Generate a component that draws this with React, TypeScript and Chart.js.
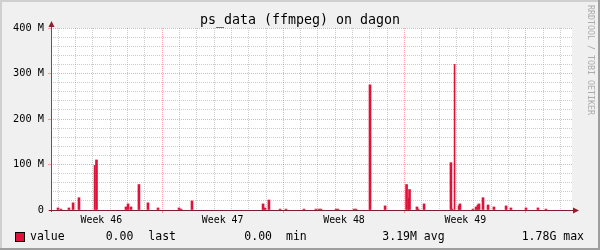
import React, { useEffect, useRef } from "react";
import { Chart, registerables } from "chart.js";

Chart.register(...registerables);

const TITLE = "ps_data (ffmpeg) on dagon";
const WATERMARK = "RRDTOOL / TOBI OETIKER";
const SERIES_NAME = "value";
const LEGEND_STATS = ["0.00", "last", "0.00", "min", "3.19M avg", "1.78G max"];
const WEEK_LABELS = ["Week 46", "Week 47", "Week 48", "Week 49"];
const Y_MAX = 400; // M
const Y_MAJOR = 100;
const Y_MINOR = 20;

// time axis in days since Monday of week 46
const X_MIN = 0.596;
const X_MAX = 30.654;

// spikes (M), two samples wide
const spikeDays = [
  1.0, 1.17, 1.63, 1.87, 2.21, 3.22, 4.92, 5.04, 5.21, 5.67, 6.19, 6.77,
  7.98, 8.1, 8.73, 12.83, 12.94, 13.17, 13.81, 14.15, 15.19, 15.88, 16.06,
  16.17, 17.04, 17.15, 18.08, 18.19, 19.0, 19.87, 21.11, 21.28, 21.71,
  22.12, 23.67, 24.19, 24.94, 25.12, 25.29, 25.52, 25.81, 26.15, 26.85,
  27.13, 28.0, 28.69, 29.15,
];
const spikeValues = [
  4.5, 2, 4.5, 15.7, 27, 110, 6.7, 13.4, 6.7, 56, 15.7, 4.5,
  4.5, 2, 20, 13.4, 4.5, 22, 2, 2, 2, 2, 2,
  2, 2, 2, 2, 2, 275, 9, 56, 45, 6.7,
  13.4, 104, 13.4, 2, 6.7, 13.4, 27, 11, 6.7, 9,
  4.5, 4.5, 4.5, 2,
];

// single-sample spikes (M)
const thinDays = [3.11, 21.22, 21.8, 23.76, 23.88, 24.11, 25.2];
const thinValues = [98, 26, 2, 2, 320, 9, 11];

const SERIES_COLOR = "#DC143C";
const MINOR_GRID = "rgba(143,143,143,0.45)";
const MAJOR_GRID = "rgba(255,0,0,0.35)";
const MONO = '"DejaVu Sans Mono", monospace';

const isMajorX = (v: number) => Math.abs(v / 7 - Math.round(v / 7)) < 1e-6;
const isIntX = (v: number) => Math.abs(v - Math.round(v)) < 1e-6;

const rrdPlugin = {
  id: "rrdDecor",
  beforeDraw(chart: any) {
    const { ctx, width, height, chartArea: a } = chart;
    ctx.save();
    ctx.fillStyle = "#F0F0F0";
    ctx.fillRect(0, 0, width, height);
    ctx.fillStyle = "#FFFFFF";
    ctx.fillRect(a.left, a.top, a.right - a.left, a.bottom - a.top);
    // 3D frame
    ctx.fillStyle = "#CFCFCF";
    ctx.fillRect(0, 0, width, 2);
    ctx.fillRect(0, 0, 2, height);
    ctx.fillStyle = "#9E9E9E";
    ctx.fillRect(0, height - 2, width, 2);
    ctx.fillRect(width - 2, 0, 2, height);
    ctx.restore();
  },
  afterDatasetsDraw(chart: any) {
    const { ctx, chartArea: a } = chart;
    ctx.save();
    // y axis
    ctx.strokeStyle = "#5A5A5A";
    ctx.lineWidth = 1;
    ctx.beginPath();
    ctx.moveTo(a.left + 0.5, a.top - 3);
    ctx.lineTo(a.left + 0.5, a.bottom + 2);
    ctx.stroke();
    // x axis
    ctx.strokeStyle = "#7E1E2C";
    ctx.beginPath();
    ctx.moveTo(a.left - 2, a.bottom + 0.5);
    ctx.lineTo(a.right + 3, a.bottom + 0.5);
    ctx.stroke();
    // arrows
    ctx.fillStyle = "#8E1F2B";
    ctx.beginPath();
    ctx.moveTo(a.left + 0.5, a.top - 7);
    ctx.lineTo(a.left + 3.5, a.top - 1);
    ctx.lineTo(a.left - 2.5, a.top - 1);
    ctx.closePath();
    ctx.fill();
    ctx.beginPath();
    ctx.moveTo(a.right + 7, a.bottom + 0.5);
    ctx.lineTo(a.right + 1, a.bottom - 2.5);
    ctx.lineTo(a.right + 1, a.bottom + 3.5);
    ctx.closePath();
    ctx.fill();
    ctx.restore();
  },
  afterDraw(chart: any) {
    const { ctx } = chart;
    ctx.save();
    // title
    ctx.fillStyle = "#000";
    ctx.font = `13.3px ${MONO}`;
    ctx.textAlign = "center";
    ctx.textBaseline = "alphabetic";
    ctx.fillText(TITLE, 300, 24);
    // legend
    ctx.fillStyle = SERIES_COLOR;
    ctx.fillRect(15, 232, 9, 9);
    ctx.strokeStyle = "#000";
    ctx.lineWidth = 1;
    ctx.strokeRect(15.5, 232.5, 9, 9);
    ctx.fillStyle = "#000";
    ctx.font = `11.5px ${MONO}`;
    ctx.textAlign = "left";
    ctx.fillText(SERIES_NAME, 30, 240);
    const xs = [105.7, 148.3, 244.3, 286, 382.3, 521.7];
    LEGEND_STATS.forEach((t, i) => ctx.fillText(t, xs[i], 240));
    // watermark
    ctx.fillStyle = "#ABABAB";
    ctx.font = `8.3px ${MONO}`;
    ctx.translate(587.5, 5);
    ctx.rotate(Math.PI / 2);
    ctx.textAlign = "left";
    ctx.fillText(WATERMARK, 0, 0);
    ctx.restore();
  },
};

export default function App() {
  const ref = useRef<HTMLCanvasElement | null>(null);

  useEffect(() => {
    if (!ref.current) return;
    const chart = new Chart(ref.current, {
      type: "bar",
      data: {
        datasets: [
          {
            label: SERIES_NAME,
            data: spikeDays.map((d, i) => ({ x: d, y: spikeValues[i] })),
            backgroundColor: SERIES_COLOR,
            borderWidth: 0,
            barThickness: 2,
            grouped: false,
          },
          {
            label: SERIES_NAME + "_1",
            data: thinDays.map((d, i) => ({ x: d, y: thinValues[i] })),
            backgroundColor: SERIES_COLOR,
            borderWidth: 0,
            barThickness: 1,
            grouped: false,
          },
        ] as any,
      },
      options: {
        responsive: false,
        animation: false,
        devicePixelRatio: 1,
        layout: { padding: { top: 28, right: 28, left: 0, bottom: 0 } },
        plugins: { legend: { display: false }, tooltip: { enabled: false }, title: { display: false } },
        scales: {
          x: {
            type: "linear",
            min: X_MIN,
            max: X_MAX,
            offset: false,
            afterBuildTicks: (scale: any) => {
              const t: any[] = [];
              for (let v = 1; v <= 30.5; v += 0.5) t.push({ value: v });
              scale.ticks = t;
            },
            afterFit: (scale: any) => {
              scale.height = 40;
            },
            border: { display: false, dash: [1, 1] },
            grid: {
              offset: false,
              drawTicks: true,
              tickLength: 3,
              tickBorderDash: [],
              color: (c: any) => {
                const v = c.tick?.value ?? 0;
                if (isMajorX(v)) return MAJOR_GRID;
                if (isIntX(v)) return MINOR_GRID;
                return "rgba(0,0,0,0)";
              },
              tickColor: (c: any) => {
                const v = c.tick?.value ?? 0;
                return isMajorX(v) ? MAJOR_GRID : "rgba(0,0,0,0)";
              },
            },
            ticks: {
              autoSkip: false,
              maxRotation: 0,
              minRotation: 0,
              padding: 1,
              color: "#000",
              font: { family: MONO, size: 9.9 },
              callback: (v: any) => {
                const k = (Number(v) - 3.5) / 7;
                if (Math.abs(k - Math.round(k)) < 1e-6) {
                  return WEEK_LABELS[Math.round(k)] ?? "";
                }
                return "";
              },
            },
          },
          y: {
            type: "linear",
            min: 0,
            max: Y_MAX,
            afterBuildTicks: (scale: any) => {
              const t: any[] = [];
              for (let v = 0; v <= Y_MAX; v += Y_MINOR) t.push({ value: v });
              scale.ticks = t;
            },
            afterFit: (scale: any) => {
              scale.width = 51;
            },
            border: { display: false, dash: [1, 1] },
            grid: {
              drawTicks: true,
              tickLength: 3,
              tickBorderDash: [],
              color: (c: any) => ((c.tick?.value ?? 0) % Y_MAJOR === 0 ? MAJOR_GRID : MINOR_GRID),
              tickColor: (c: any) => ((c.tick?.value ?? 0) % Y_MAJOR === 0 ? MAJOR_GRID : "rgba(0,0,0,0)"),
            },
            ticks: {
              autoSkip: false,
              padding: 4,
              color: "#000",
              font: { family: MONO, size: 10.3 },
              callback: (v: any) => {
                const n = Number(v);
                if (n % Y_MAJOR !== 0) return "";
                return n === 0 ? "0" : `${n} M`;
              },
            },
          },
        },
      } as any,
      plugins: [rrdPlugin],
    });
    return () => chart.destroy();
  }, []);

  return (
    <div style={{ position: "absolute", left: 0, top: 0, width: 600, height: 250 }}>
      <canvas ref={ref} width={600} height={250} style={{ width: 600, height: 250, display: "block" }} />
    </div>
  );
}
